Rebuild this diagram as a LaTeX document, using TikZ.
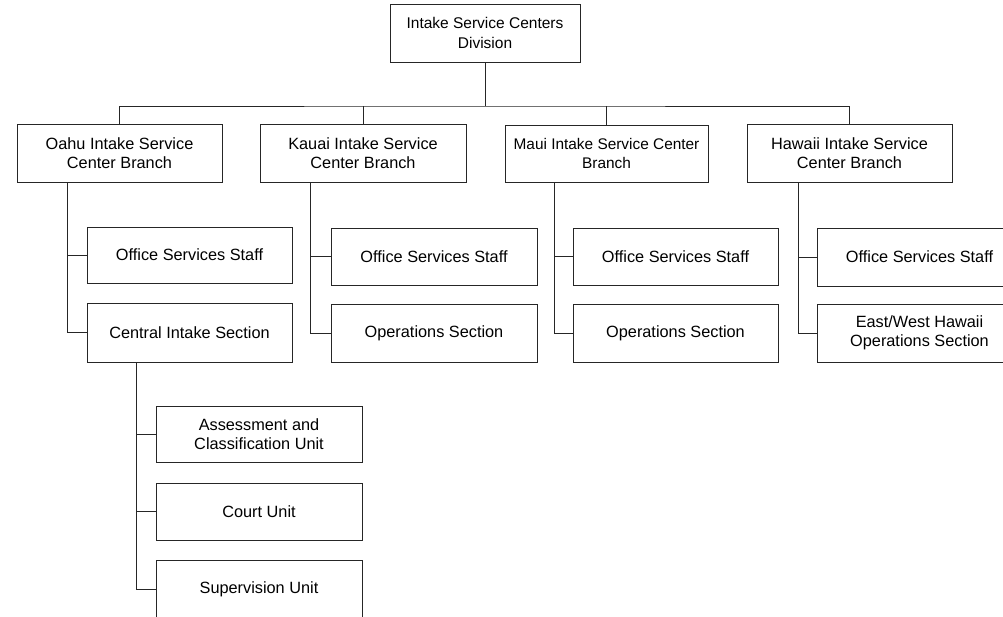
\documentclass[tikz,border=0pt]{standalone}
\usepackage{fontspec}
\setmainfont{Liberation Sans}
\begin{document}
\begin{tikzpicture}[x=1pt,y=-1pt,
  orgbox/.style={draw=black!85, line width=0.8pt, align=center, inner sep=0pt,
    minimum width=205pt, minimum height=57pt, font=\fontsize{16.3}{19.5}\selectfont},
  link/.style={draw=black!85, line width=0.8pt}]
\useasboundingbox (0,0) rectangle (1003,616);
\fill[white] (0,0) rectangle (1003,616);
\clip (0,0) rectangle (1003,616);
% top
\node[orgbox, minimum width=190pt, minimum height=58pt, font=\fontsize{15.5}{19.5}\selectfont] (top) at (485,33) {Intake Service Centers\\Division};
% branches
\node[orgbox, minimum height=58pt] (oahu) at (119.5,153) {Oahu Intake Service\\Center Branch};
\node[orgbox, minimum width=206pt, minimum height=58pt] (kauai) at (363,153) {Kauai Intake Service\\Center Branch};
\node[orgbox, minimum width=203pt, minimum height=57pt, font=\fontsize{15.4}{19.5}\selectfont] (maui) at (606.5,153.5) {Maui Intake Service Center\\Branch};
\node[orgbox, minimum height=58pt] (hawaii) at (849.5,153) {Hawaii Intake Service\\Center Branch};
% Oahu children
\node[orgbox, minimum height=56pt] (off1) at (189.5,255) {Office Services Staff};
\node[orgbox, minimum height=59pt] (cen1) at (189.5,332.5) {Central Intake Section};
% Kauai children
\node[orgbox, minimum width=206pt] (off2) at (434,256.5) {Office Services Staff};
\node[orgbox, minimum width=206pt, minimum height=58pt] (ops2) at (434,333) {Operations Section};
% Maui children
\node[orgbox] (off3) at (675.5,256.5) {Office Services Staff};
\node[orgbox, minimum height=58pt] (ops3) at (675.5,333) {Operations Section};
% Hawaii children
\node[orgbox, minimum height=58pt] (off4) at (919.5,257) {Office Services Staff};
\node[orgbox, minimum height=58pt] (ew4) at (919.5,333) {East/West Hawaii\\Operations Section};
% Central Intake units
\node[orgbox, minimum width=206pt, minimum height=56pt] (ass) at (259,434) {Assessment and\\Classification Unit};
\node[orgbox, minimum width=206pt] (court) at (259,511.5) {Court Unit};
\node[orgbox, minimum width=206pt, minimum height=58pt] (sup) at (259,589) {Supervision Unit};
% bus
\coordinate (bus) at (485,106);
\draw[link] (top.south) -- (bus);
\draw[link] (oahu.north) |- (bus) -| (hawaii.north);
\draw[link] (kauai.north) -- (kauai.north |- bus);
\draw[link] (maui.north) -- (maui.north |- bus);
% stems
\path (oahu.south west) ++(51,0) coordinate (s1);
\path (kauai.south west) ++(51,0) coordinate (s2);
\path (maui.south west) ++(50,0) coordinate (s3);
\path (hawaii.south west) ++(52,0) coordinate (s4);
\path (cen1.south west) ++(50,0) coordinate (s5);
\draw[link] (s1) |- (cen1.west);
\draw[link] (s1 |- off1.west) -- (off1.west);
\draw[link] (s2) |- (ops2.west);
\draw[link] (s2 |- off2.west) -- (off2.west);
\draw[link] (s3) |- (ops3.west);
\draw[link] (s3 |- off3.west) -- (off3.west);
\draw[link] (s4) |- (ew4.west);
\draw[link] (s4 |- off4.west) -- (off4.west);
\draw[link] (s5) |- (sup.west);
\draw[link] (s5 |- ass.west) -- (ass.west);
\draw[link] (s5 |- court.west) -- (court.west);
\end{tikzpicture}
\end{document}
